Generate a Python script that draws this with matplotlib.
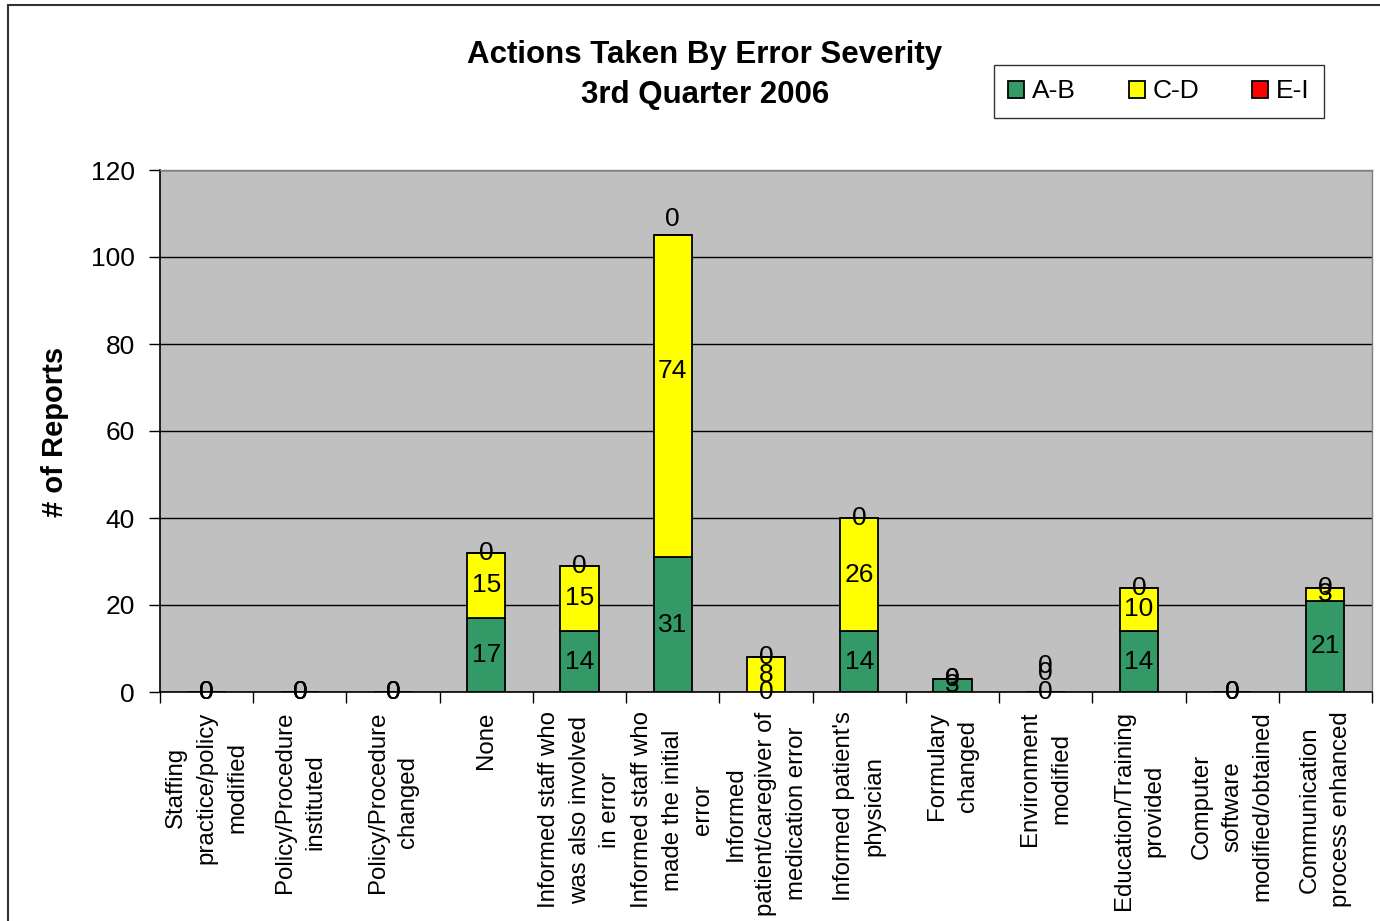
import matplotlib
matplotlib.use("Agg")
import numpy as np
import matplotlib.pyplot as plt
from matplotlib.patches import Rectangle

plt.rcParams['font.family'] = ['Liberation Sans', 'DejaVu Sans']

# actions taken, 3rd quarter 2006
categories = [
    "Staffing\npractice/policy\nmodified",
    "Policy/Procedure\ninstituted",
    "Policy/Procedure\nchanged",
    "None",
    "Informed staff who\nwas also involved\nin error",
    "Informed staff who\nmade the initial\nerror",
    "Informed\npatient/caregiver of\nmedication error",
    "Informed patient's\nphysician",
    "Formulary\nchanged",
    "Environment\nmodified",
    "Education/Training\nprovided",
    "Computer\nsoftware\nmodified/obtained",
    "Communication\nprocess enhanced",
]
sev_ab = [0, 0, 0, 17, 14, 31, 0, 14, 3, 0, 14, 0, 21]
sev_cd = [0, 0, 0, 15, 15, 74, 8, 26, 0, 0, 10, 0, 3]
sev_ei = [0, 0, 0, 0, 0, 0, 0, 0, 0, 0, 0, 0, 0]

series = [("A-B", sev_ab, "#339966"),
          ("C-D", sev_cd, "#FFFF00"),
          ("E-I", sev_ei, "#FF0000")]

# a few labels were nudged by hand in the original sheet (points)
nudge = {(5, 1): 18, (5, 2): 12, (9, 1): 14, (9, 2): 19}

W, H = 1380, 921
fig = plt.figure(figsize=(W / 100, H / 100), dpi=100)
ax = fig.add_axes([160 / W, 1 - 692 / H, 1212 / W, 522 / H])
ax.set_facecolor("#C0C0C0")

x = np.arange(len(categories))
bottom = np.zeros(len(categories))
for si, (name, vals, col) in enumerate(series):
    vals = np.array(vals, dtype=float)
    ax.bar(x, vals, width=0.41, bottom=bottom, color=col, edgecolor="black",
           linewidth=1.3, label=name, zorder=3)
    for i, v in enumerate(vals):
        ypos = bottom[i] + v / 2
        ax.annotate(f"{int(v)}", (x[i], ypos), xytext=(0, nudge.get((i, si), 0)),
                    textcoords="offset points", ha="center", va="center",
                    fontsize=19, color="black", zorder=5, annotation_clip=False)
    bottom += vals

ax.set_xlim(-0.5, len(categories) - 0.5)
ax.set_ylim(0, 120)
ax.set_yticks(np.arange(0, 121, 20))
ax.yaxis.grid(True, color="black", linewidth=1)
ax.set_axisbelow(True)
ax.tick_params(axis="y", direction="out", length=8, width=1, labelsize=19, pad=10)

ax.set_xticks(x)
ax.set_xticklabels(categories, rotation=90, ha="center", va="top",
                   multialignment="center", fontsize=17.3, linespacing=1.5)
ax.set_xticks(np.arange(-0.5, len(categories), 1), minor=True)
ax.tick_params(axis="x", which="major", length=0, pad=14)
ax.tick_params(axis="x", which="minor", direction="out", length=8, width=1)

for s in ["top", "right"]:
    ax.spines[s].set_color("#808080")
    ax.spines[s].set_linewidth(1)
for s in ["left", "bottom"]:
    ax.spines[s].set_color("black")
    ax.spines[s].set_linewidth(1.2)

fig.text(705 / W, 1 - 75 / H, "Actions Taken By Error Severity\n3rd Quarter 2006",
         ha="center", va="center", fontsize=22.5, fontweight="bold", linespacing=1.45)
fig.text(55 / W, 1 - 432 / H, "# of Reports", rotation=90, ha="center",
         va="center", fontsize=21, fontweight="bold")

leg = fig.legend(loc="center", bbox_to_anchor=(1159 / W, 1 - 91.5 / H), ncol=3,
                 fontsize=19, frameon=True, fancybox=False, handlelength=0.6,
                 handleheight=0.6, handletextpad=0.3, columnspacing=2.0,
                 borderpad=0.55, borderaxespad=0)
leg.get_frame().set_edgecolor("black")
leg.get_frame().set_linewidth(1)

# chart area border
fig.add_artist(Rectangle((8 / W, -0.1), 1.2, 1.1 - 5 / H, transform=fig.transFigure,
                         fill=False, edgecolor="#333333", linewidth=1.5))

fig.savefig("out.png", dpi=100)
